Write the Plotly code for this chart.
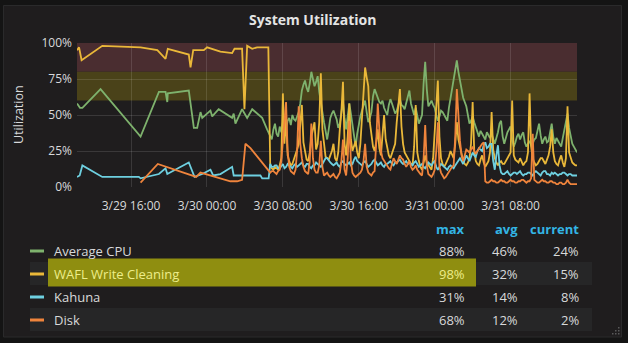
import pandas as pd
import plotly.graph_objects as go

# ---------------------------------------------------------------------------
# Data: sparse samples first, then a regular 10-minute polling period
# ---------------------------------------------------------------------------
series_names = ["Average CPU", "WAFL Write Cleaning", "Kahuna", "Disk"]
series_colors = ["#7eb26d", "#eab839", "#6ed0e0", "#ef843c"]

cpu_sparse_t = ["2019-03-29 10:18", "2019-03-29 10:37", "2019-03-29 10:52", "2019-03-29 12:47",
                "2019-03-29 17:00", "2019-03-29 18:56", "2019-03-29 19:38", "2019-03-29 19:49",
                "2019-03-29 19:52", "2019-03-29 22:05", "2019-03-29 22:37", "2019-03-29 22:58",
                "2019-03-29 23:19", "2019-03-29 23:30", "2019-03-30 00:22", "2019-03-30 00:33",
                "2019-03-30 01:14", "2019-03-30 02:08", "2019-03-30 02:39", "2019-03-30 02:49",
                "2019-03-30 03:00", "2019-03-30 03:42", "2019-03-30 04:14", "2019-03-30 04:46",
                "2019-03-30 05:49", "2019-03-30 06:20"]
cpu_sparse_v = [58, 55, 55, 68, 35, 66, 66, 59, 65, 67, 41, 41, 52, 48, 53, 49,
                54, 50, 48, 51, 44, 54, 48, 54, 48, 40]

wafl_sparse_t = ["2019-03-29 10:18", "2019-03-29 10:31", "2019-03-29 10:47", "2019-03-29 12:58",
                 "2019-03-29 17:00", "2019-03-29 18:46", "2019-03-29 19:38", "2019-03-29 19:52",
                 "2019-03-29 22:05", "2019-03-29 22:16", "2019-03-29 22:33", "2019-03-29 23:40",
                 "2019-03-30 00:01", "2019-03-30 01:25", "2019-03-30 02:39", "2019-03-30 02:54",
                 "2019-03-30 03:42", "2019-03-30 03:57", "2019-03-30 04:14", "2019-03-30 04:46",
                 "2019-03-30 05:17", "2019-03-30 06:28"]
wafl_sparse_v = [95, 97, 88, 98, 97, 95, 89, 96, 92, 83, 95, 95, 97, 94, 93, 96,
                 96, 54, 98, 96, 97, 97]

kahuna_sparse_t = ["2019-03-29 10:18", "2019-03-29 10:35", "2019-03-29 10:52", "2019-03-29 12:58",
                   "2019-03-29 16:49", "2019-03-29 17:00", "2019-03-29 18:56", "2019-03-29 19:38",
                   "2019-03-29 19:49", "2019-03-29 22:05", "2019-03-29 22:41", "2019-03-29 23:30",
                   "2019-03-30 00:22", "2019-03-30 00:39", "2019-03-30 01:25", "2019-03-30 02:39",
                   "2019-03-30 02:49", "2019-03-30 04:14", "2019-03-30 05:38", "2019-03-30 05:49",
                   "2019-03-30 06:30"]
kahuna_sparse_v = [7, 8, 15, 7, 7, 6, 9, 13, 9, 17, 7, 9, 12, 8, 9, 14, 8, 8, 8, 6, 6]

disk_sparse_t = ["2019-03-29 17:00", "2019-03-29 18:49", "2019-03-29 22:52", "2019-03-29 23:19",
                 "2019-03-30 02:28", "2019-03-30 03:11", "2019-03-30 03:42", "2019-03-30 04:03",
                 "2019-03-30 04:35"]
disk_sparse_v = [3, 16, 7, 10, 4, 4, 5, 30, 27]

dense_start = "2019-03-30 06:40"
dense_step = "10min"

cpu_dense = [36, 33, 40, 44, 37, 35, 42, 38, 45, 41, 40, 46, 48, 43, 50, 47, 46, 49, 52, 58,
             67, 71, 74, 69, 66, 72, 80, 75, 70, 73, 77, 66, 60, 52, 45, 38, 33, 40, 48, 51,
             53, 50, 47, 41, 44, 52, 59, 48, 40, 49, 58, 51, 42, 33, 28, 37, 44, 49, 53, 57,
             60, 52, 45, 48, 52, 63, 68, 65, 62, 59, 58, 60, 55, 52, 50, 57, 61, 58, 55, 51,
             53, 58, 61, 57, 56, 54, 58, 63, 67, 58, 53, 50, 55, 49, 44, 47, 50, 72, 87, 68,
             56, 58, 60, 57, 55, 50, 46, 49, 53, 52, 50, 48, 46, 55, 62, 70, 76, 83, 88, 80,
             74, 66, 62, 59, 56, 50, 44, 46, 49, 45, 42, 38, 35, 39, 37, 34, 33, 38, 36, 34,
             37, 33, 30, 34, 38, 44, 46, 35, 30, 34, 38, 40, 42, 33, 28, 31, 35, 37, 33, 36,
             38, 31, 28, 30, 32, 29, 30, 33, 34, 39, 44, 36, 30, 33, 35, 31, 32, 38, 44, 35,
             30, 34, 32, 29, 28, 34, 40, 46, 51, 41, 35, 30, 28, 26, 24]

wafl_dense = [14, 13, 12, 14, 13, 12, 15, 20, 65, 30, 48, 22, 18, 15, 16, 19, 22, 26, 30, 42,
              57, 31, 25, 19, 18, 24, 35, 40, 45, 26, 30, 45, 79, 40, 28, 21, 20, 19, 22, 25,
              30, 20, 18, 24, 40, 52, 73, 30, 22, 35, 58, 33, 25, 28, 32, 24, 20, 30, 48, 62,
              83, 76, 70, 45, 35, 28, 25, 31, 40, 27, 22, 34, 50, 33, 28, 22, 20, 23, 26, 30,
              45, 60, 68, 42, 30, 24, 22, 19, 18, 16, 15, 28, 57, 24, 18, 14, 12, 17, 22, 17,
              15, 13, 12, 20, 40, 58, 74, 35, 20, 16, 14, 16, 18, 21, 25, 22, 20, 30, 45, 33,
              28, 22, 18, 16, 15, 17, 20, 30, 59, 25, 18, 16, 15, 19, 22, 17, 14, 16, 18, 24,
              52, 26, 20, 17, 15, 17, 18, 16, 16, 18, 20, 22, 24, 60, 22, 19, 18, 17, 20, 18,
              15, 17, 18, 24, 65, 28, 20, 17, 15, 16, 18, 20, 20, 18, 16, 19, 22, 28, 40, 24,
              18, 16, 15, 19, 22, 17, 14, 20, 56, 24, 20, 17, 16, 15, 15]

kahuna_dense = [16, 14, 14, 15, 15, 13, 13, 15, 16, 13, 14, 16, 15, 14, 13, 15, 16, 14, 15, 16,
                17, 15, 14, 16, 16, 14, 13, 15, 15, 17, 16, 15, 14, 16, 18, 20, 20, 18, 17, 16,
                15, 16, 17, 15, 14, 17, 18, 16, 15, 16, 17, 15, 16, 19, 21, 18, 17, 16, 15, 17,
                18, 16, 14, 15, 16, 18, 19, 17, 15, 16, 17, 15, 14, 16, 16, 17, 18, 16, 15, 17,
                17, 18, 19, 17, 16, 17, 18, 16, 17, 16, 15, 17, 18, 16, 14, 15, 16, 14, 13, 15,
                17, 16, 15, 17, 18, 14, 12, 14, 16, 15, 14, 13, 12, 14, 15, 14, 13, 15, 17, 19,
                20, 18, 16, 19, 22, 20, 18, 21, 24, 22, 21, 25, 27, 26, 25, 29, 31, 27, 28, 30,
                30, 18, 12, 22, 29, 15, 10, 9, 9, 10, 11, 9, 8, 9, 10, 10, 9, 10, 11, 9,
                8, 9, 9, 10, 10, 9, 8, 10, 11, 10, 9, 8, 10, 11, 11, 9, 9, 8, 10, 9,
                10, 9, 8, 9, 9, 10, 10, 9, 8, 9, 9, 8, 8, 8, 8]

disk_dense = [10, 11, 11, 10, 9, 11, 12, 18, 30, 45, 59, 25, 14, 11, 10, 9, 12, 25, 56, 30,
              20, 14, 11, 10, 9, 18, 44, 20, 12, 10, 10, 15, 32, 14, 8, 9, 10, 8, 7, 8,
              9, 7, 6, 8, 10, 18, 33, 12, 8, 20, 46, 18, 10, 8, 7, 8, 9, 10, 12, 18,
              30, 14, 10, 9, 8, 10, 11, 30, 58, 40, 25, 20, 18, 16, 15, 13, 12, 16, 20, 18,
              16, 19, 22, 20, 19, 16, 14, 16, 18, 14, 12, 13, 15, 12, 10, 9, 8, 20, 43, 15,
              9, 8, 7, 9, 12, 25, 45, 14, 10, 8, 6, 7, 9, 11, 12, 14, 15, 35, 68, 45,
              32, 22, 18, 22, 26, 25, 24, 26, 28, 25, 23, 25, 27, 29, 30, 31, 4, 3, 3, 4,
              5, 4, 4, 3, 3, 4, 5, 4, 4, 3, 3, 4, 5, 4, 4, 3, 3, 4, 4, 5,
              5, 4, 3, 4, 4, 6, 37, 5, 4, 3, 3, 4, 5, 4, 4, 3, 3, 4, 4, 3,
              3, 2, 2, 3, 3, 2, 2, 3, 5, 3, 2, 2, 2, 2, 2]

# Legend table averages as reported by the dashboard
series_avg = [46, 32, 14, 12]

y_ticks = [0, 25, 50, 75, 100]
x_range = ["2019-03-29 10:18", "2019-03-31 15:00"]
threshold_warn = [60, 80]
threshold_crit = [80, 100]


def build(sparse_t, sparse_v, dense_v):
    dense_t = pd.date_range(dense_start, periods=len(dense_v), freq=dense_step)
    t = list(pd.to_datetime(sparse_t)) + list(dense_t)
    return t, list(sparse_v) + list(dense_v)


all_series = [
    build(cpu_sparse_t, cpu_sparse_v, cpu_dense),
    build(wafl_sparse_t, wafl_sparse_v, wafl_dense),
    build(kahuna_sparse_t, kahuna_sparse_v, kahuna_dense),
    build(disk_sparse_t, disk_sparse_v, disk_dense),
]

# ---------------------------------------------------------------------------
# Geometry helpers (pixel -> paper coordinates)
# ---------------------------------------------------------------------------
W, H = 628, 343
L, R, T, B = 77, 51, 43, 156
PW, PH = W - L - R, H - T - B


def px(x):
    return (x - L) / PW


def py(y):
    return (H - B - y) / PH


FONT = "Open Sans, Noto Sans, sans-serif"
TXT = "#d8d9da"
PANEL = "#1f1d1e"

fig = go.Figure()
for (t, v), name, color in zip(all_series, series_names, series_colors):
    fig.add_trace(go.Scatter(x=t, y=v, mode="lines", name=name,
                             line=dict(color=color, width=1.8), hoverinfo="skip"))

shapes = []
# panel background + border
shapes.append(dict(type="rect", xref="paper", yref="paper", layer="below",
                   x0=px(3.5), x1=px(621.5), y0=py(337), y1=py(5.5),
                   fillcolor=PANEL, line=dict(color="#2a2a2b", width=1)))
# threshold bands
shapes.append(dict(type="rect", xref="x domain", yref="y", layer="below",
                   x0=0, x1=1, y0=threshold_crit[0], y1=threshold_crit[1],
                   fillcolor="#4a2d30", line=dict(width=0)))
shapes.append(dict(type="rect", xref="x domain", yref="y", layer="below",
                   x0=0, x1=1, y0=threshold_warn[0], y1=threshold_warn[1],
                   fillcolor="#4a4219", line=dict(width=0)))

# legend table rows
row_y = [250.5, 273.5, 296.5, 319.5]
row_h = 23
for i, y in enumerate(row_y):
    if i % 2 == 1:
        shapes.append(dict(type="rect", xref="paper", yref="paper", layer="above",
                           x0=px(30), x1=px(592), y0=py(y + row_h / 2), y1=py(y - row_h / 2),
                           fillcolor="#262627", line=dict(width=0)))
# hovered row highlight
shapes.append(dict(type="rect", xref="paper", yref="paper", layer="above",
                   x0=px(48), x1=px(476), y0=py(286.5), y1=py(258.5),
                   fillcolor="#8f8e10", line=dict(width=0)))
for y, color in zip(row_y, series_colors):
    shapes.append(dict(type="rect", xref="paper", yref="paper", layer="above",
                       x0=px(30), x1=px(44), y0=py(y + 2), y1=py(y - 1),
                       fillcolor=color, line=dict(width=0)))
# resize grip in the corner
for gx, gy in [(618, 327), (618, 330), (615, 330), (618, 333), (615, 333), (612, 333)]:
    shapes.append(dict(type="rect", xref="paper", yref="paper", layer="above",
                       x0=px(gx), x1=px(gx + 1.5), y0=py(gy + 1.5), y1=py(gy),
                       fillcolor="#5a5a5a", line=dict(width=0)))

ann = []
ann.append(dict(text="<b>System Utilization</b>", x=px(312.5), y=py(20), xref="paper", yref="paper",
                showarrow=False, xanchor="center", yanchor="middle",
                font=dict(family=FONT, size=14, color="#e4e4e4")))
ann.append(dict(text="Utilization", x=px(18), y=py(115), xref="paper", yref="paper",
                showarrow=False, textangle=-90, xanchor="center", yanchor="middle",
                font=dict(family=FONT, size=12.5, color=TXT)))

col_x = [467, 520, 581]
for label, cx in zip(["max", "avg", "current"], col_x):
    ann.append(dict(text="<b>" + label + "</b>", x=px(cx), y=py(228.5), xref="paper", yref="paper",
                    showarrow=False, xanchor="right", yanchor="middle",
                    font=dict(family=FONT, size=13, color="#33b5e5")))

for i, ((t, v), name) in enumerate(zip(all_series, series_names)):
    y = row_y[i]
    stats = [max(v), series_avg[i], v[-1]]
    hi = i == 1
    name_color = "#eded8a" if hi else TXT
    ann.append(dict(text=name, x=px(51.5), y=py(y), xref="paper", yref="paper",
                    showarrow=False, xanchor="left", yanchor="middle",
                    font=dict(family=FONT, size=13, color=name_color)))
    for j, (s, cx) in enumerate(zip(stats, col_x)):
        c = "#eded8a" if (hi and j == 0) else TXT
        ann.append(dict(text=f"{s:.0f}%", x=px(cx), y=py(y), xref="paper", yref="paper",
                        showarrow=False, xanchor="right", yanchor="middle",
                        font=dict(family=FONT, size=13, color=c)))

GRID = "rgba(255,255,255,0.12)"
fig.update_layout(
    width=W, height=H, autosize=False,
    margin=dict(l=L, r=R, t=T, b=B, pad=0),
    paper_bgcolor="#141414", plot_bgcolor=PANEL,
    showlegend=False,
    font=dict(family=FONT, size=12, color=TXT),
    shapes=shapes, annotations=ann,
    xaxis=dict(type="date", range=x_range, dtick=8 * 3600 * 1000, tick0="2019-03-29 00:00",
               tickformat="%-m/%-d %H:%M", showgrid=True, gridcolor=GRID, gridwidth=1,
               zeroline=False, showline=False, ticks="", ticklabelstandoff=10,
               tickfont=dict(family=FONT, size=12, color=TXT), fixedrange=True),
    yaxis=dict(range=[0, 100], tickmode="array", tickvals=y_ticks,
               ticktext=[f"{v}%" for v in y_ticks], showgrid=True,
               gridcolor=GRID, gridwidth=1, zeroline=False, showline=False, ticks="",
               ticklabelstandoff=4, tickfont=dict(family=FONT, size=12, color=TXT),
               fixedrange=True),
)

fig.write_html("out.html")
